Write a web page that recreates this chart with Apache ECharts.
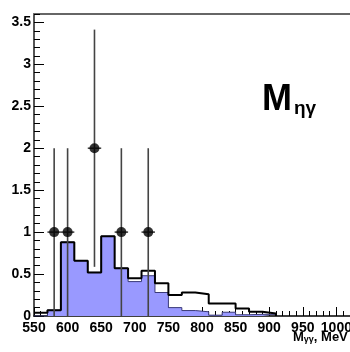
<!DOCTYPE html>
<html><head><meta charset="utf-8">
<script src="https://cdn.jsdelivr.net/npm/echarts@6/dist/echarts.min.js"></script>
<style>html,body{margin:0;padding:0;background:#fff}#c{width:350px;height:352px}</style>
</head><body><div id="c"></div>
<script>
// Histogram bins (lower edges, MeV) and contents
const binLowEdges = [550,570,590,610,630,650,670,690,710,730,750,770,790,810,830,850,870,890,910];
const totalMC  = [0.04,0.07,0.88,0.66,0.52,0.95,0.57,0.45,0.54,0.39,0.25,0.28,0.26,0.15,0.15,0.09,0.05,0.03,0];
const signalMC = [0,0.07,0.88,0.66,0.52,0.95,0.57,0.41,0.48,0.28,0.10,0.065,0.05,0.01,0.045,0.015,0.02,0.02,0];
// Data points
const dataX = [580,600,640,680,720];
const dataY = [1,1,2,1,1];
const dataErrY = [1,1,1.414,1,1];
const dataErrX = [10,10,10,10,10];
// Axis settings
const xMin = 550, xMax = 1050, xMajor = 50, xMinor = 10;
const yMin = 0, yMax = 3.6, yMajor = 0.5, yMinor = 0.1;

const FONT = 'Liberation Sans';
const chart = echarts.init(document.getElementById('c'), null, {renderer:'canvas'});

const histTotal = binLowEdges.map((x,i)=>[x,totalMC[i]]);
const histSig = binLowEdges.map((x,i)=>[x,signalMC[i]]);
const points = dataX.map((x,i)=>[x,dataY[i],dataErrX[i],dataErrY[i]]);

chart.setOption({
  animation:false,
  backgroundColor:'#fff',
  grid:{left:34, top:14, width:336, height:302, containLabel:false, outerBoundsMode:'none'},
  xAxis:[
    {type:'value', min:xMin, max:xMax, interval:xMajor, position:'bottom',
     axisLine:{show:true, onZero:false, lineStyle:{color:'#000', width:1.5}},
     axisTick:{show:true, inside:true, length:9, lineStyle:{color:'#000', width:1}},
     axisLabel:{show:true, margin:5, color:'#000', fontFamily:FONT, fontWeight:'bold', fontSize:14,
       formatter:(v)=>String(v), hideOverlap:false},
     splitLine:{show:false}},
    {type:'value', min:xMin, max:xMax, interval:xMinor, position:'bottom',
     axisLine:{show:false}, axisLabel:{show:false}, splitLine:{show:false},
     axisTick:{show:true, inside:true, length:5, lineStyle:{color:'#000', width:1}}},
    {type:'value', min:xMin, max:xMax, position:'top',
     axisLine:{show:true, onZero:false, lineStyle:{color:'#666', width:2}},
     axisTick:{show:false}, axisLabel:{show:false}, splitLine:{show:false}}
  ],
  yAxis:[
    {type:'value', min:yMin, max:yMax, interval:yMajor, position:'left',
     axisLine:{show:true, onZero:false, lineStyle:{color:'#555', width:2}},
     axisTick:{show:true, inside:true, length:10, lineStyle:{color:'#000', width:1}},
     axisLabel:{show:true, margin:3, color:'#000', fontFamily:FONT, fontWeight:'bold', fontSize:14,
       showMaxLabel:false,
       formatter:(v)=> (Math.abs(v-yMax)<1e-6 ? '' : String(+v.toFixed(1)))},
     splitLine:{show:false}},
    {type:'value', min:yMin, max:yMax, interval:yMinor, position:'left',
     axisLine:{show:false}, axisLabel:{show:false}, splitLine:{show:false},
     axisTick:{show:true, inside:true, length:6, lineStyle:{color:'#000', width:1}}}
  ],
  series:[
    {type:'line', name:'signal', data:histSig, step:'end', symbol:'none', z:2,
     xAxisIndex:0, yAxisIndex:0,
     lineStyle:{color:'#3a3a78', width:1},
     areaStyle:{color:'#9999ff', opacity:1}},
    {type:'line', name:'total', data:histTotal, step:'end', symbol:'none', z:3,
     xAxisIndex:0, yAxisIndex:0,
     lineStyle:{color:'#000', width:2}},
    {type:'custom', name:'errors', z:4, xAxisIndex:0, yAxisIndex:0, data:points,
     renderItem:(params, api)=>{
       const x = api.value(0), y = api.value(1), ex = api.value(2), ey = api.value(3);
       const top = api.coord([x,y+ey]);
       const bot = api.coord([x,Math.max(0,y-ey)]);
       const l = api.coord([x-ex,y]);
       const r = api.coord([x+ex,y]);
       const st = {stroke:'#444', lineWidth:1.6};
       return {type:'group', children:[
         {type:'line', shape:{x1:top[0],y1:top[1],x2:bot[0],y2:bot[1]}, style:st},
         {type:'line', shape:{x1:l[0],y1:l[1],x2:r[0],y2:r[1]}, style:st}
       ]};
     }},
    {type:'scatter', name:'data', z:5, xAxisIndex:0, yAxisIndex:0,
     data:dataX.map((x,i)=>[x,dataY[i]]), symbol:'circle', symbolSize:10,
     itemStyle:{color:'#000'}}
  ],
  graphic:[
    {type:'text', left:262, top:82, z:10,
     style:{text:'{m|M}{s|ηγ}', rich:{
       m:{fontSize:36, fontWeight:'bold', fontFamily:FONT, fill:'#000', verticalAlign:'bottom', lineHeight:40},
       s:{fontSize:19, fontWeight:'bold', fontFamily:FONT, fill:'#000', verticalAlign:'bottom', lineHeight:40, padding:[0,0,0,2]}
     }}},
    {type:'text', left:293, top:331, z:10,
     style:{text:'{a|M}{b|γγ}{c|, MeV}', rich:{
       a:{fontSize:13, fontWeight:'bold', fontFamily:FONT, fill:'#000', verticalAlign:'bottom', lineHeight:15},
       b:{fontSize:9, fontWeight:'bold', fontFamily:FONT, fill:'#000', verticalAlign:'bottom', lineHeight:12},
       c:{fontSize:13, fontWeight:'bold', fontFamily:FONT, fill:'#000', verticalAlign:'bottom', lineHeight:15}
     }}}
  ]
});
</script></body></html>
